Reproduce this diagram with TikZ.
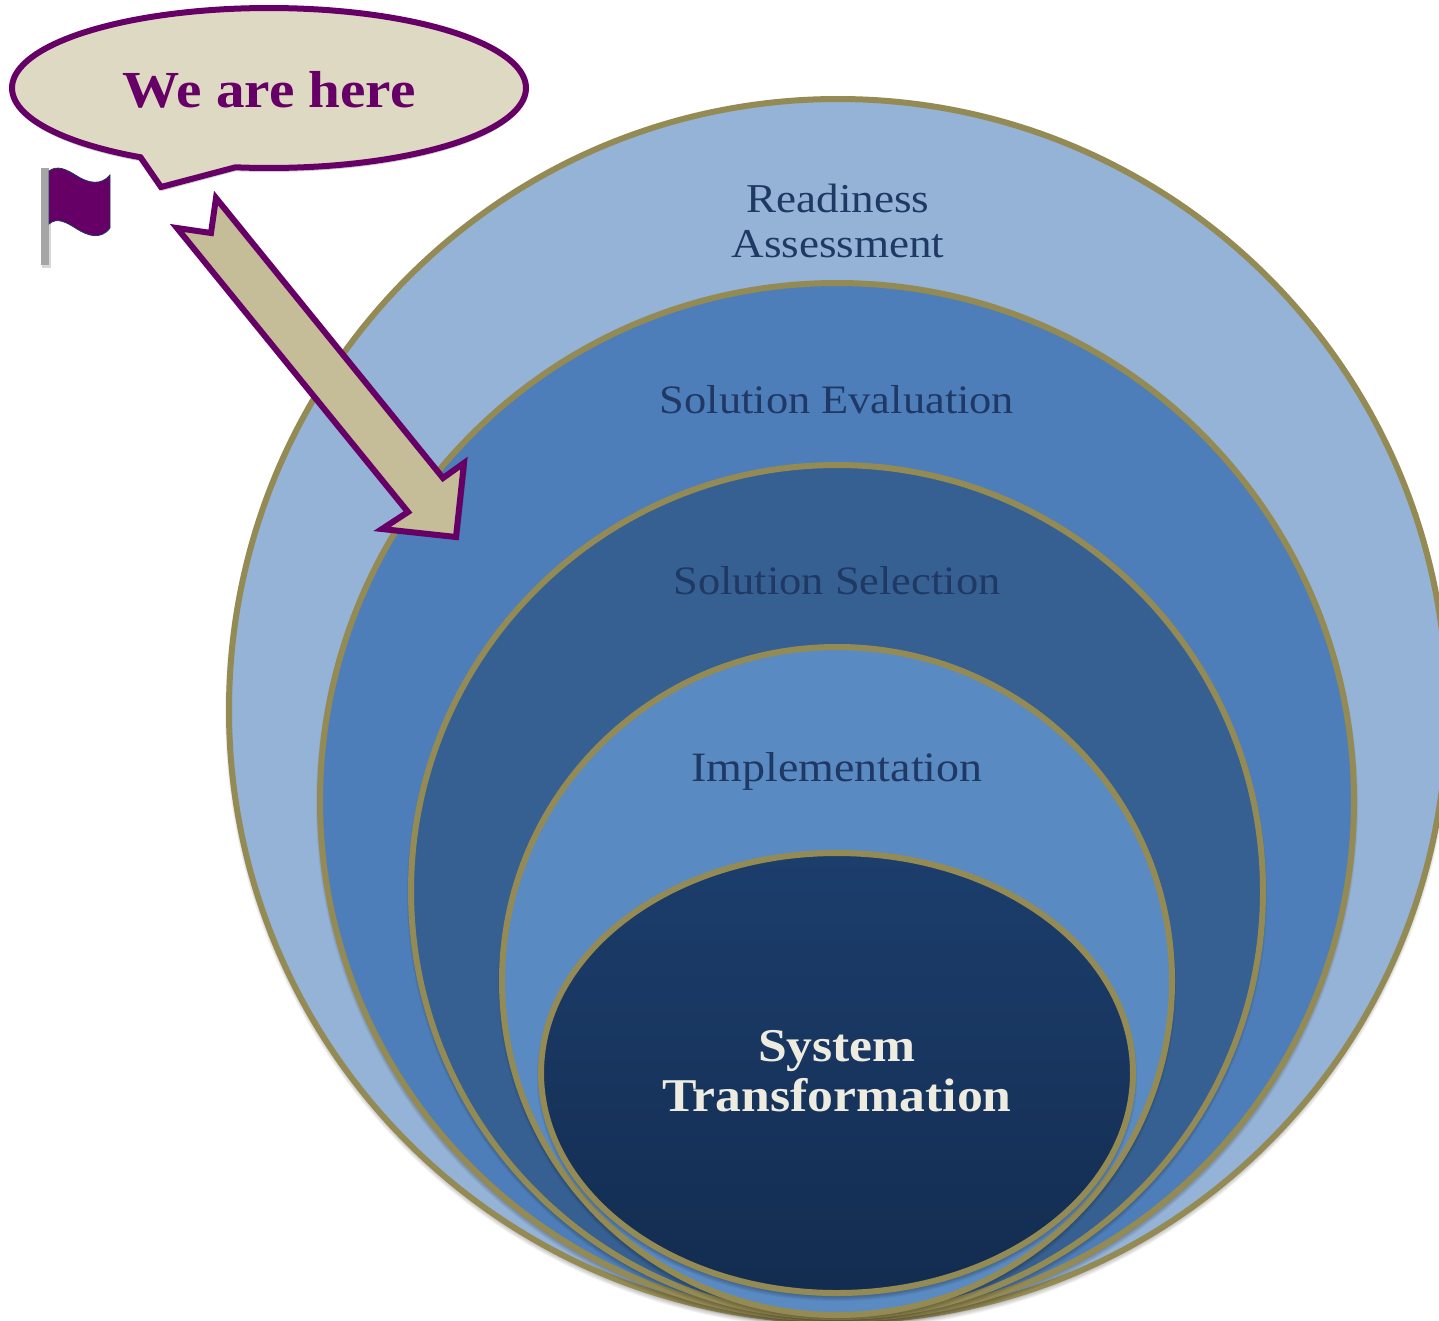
\documentclass[tikz,border=0pt]{standalone}
\usepackage{fontspec}
\setmainfont{Liberation Serif}[FakeStretch=1.1]
\definecolor{rim}{HTML}{948A54}
\definecolor{plum}{HTML}{660066}
\definecolor{labelblue}{HTML}{1F3864}
\definecolor{ringA}{HTML}{95B3D7}
\definecolor{ringB}{HTML}{4D7EB9}
\definecolor{ringC}{HTML}{366092}
\definecolor{ringD}{HTML}{5A8AC2}
\definecolor{coreTop}{HTML}{1C3E6C}
\definecolor{coreBot}{HTML}{132C50}
\definecolor{bubbleFill}{HTML}{DDD9C3}
\definecolor{arrowFill}{HTML}{C4BD97}
\definecolor{cream}{HTML}{EEECE1}
\tikzset{
  x=1pt,y=-1pt,
  ringshape/.style={ellipse,draw=rim,line width=6pt,inner sep=0pt,outer sep=0pt},
  softshadow/.style={ellipse,fill=black,fill opacity=.05,draw=none,inner sep=0pt,outer sep=0pt},
  ringlabel/.style={text=labelblue,font=\fontsize{41}{45}\selectfont,align=center,inner sep=0pt},
  plumline/.style={draw=plum,line width=6pt,line join=miter,miter limit=10},
}
\usetikzlibrary{shapes.geometric}
\newcommand{\softring}[6]{% name,cx,cy,w,h,fill
  \foreach \g in {0,2,4,6,8}{
    \node[softshadow,minimum width=#4pt+\g pt,minimum height=#5pt+\g pt] at (#2,#3+4) {};
  }
  \node[ringshape,fill=#6,minimum width=#4pt,minimum height=#5pt] (#1) at (#2,#3) {};
}
\begin{document}
\begin{tikzpicture}
\useasboundingbox (0,0) rectangle (1439,1320);
% rings
\softring{ringa}{838}{710}{1218}{1222}{ringA}
\softring{ringb}{837}{801}{1034}{1036}{ringB}
\softring{ringc}{837}{891}{852}{852}{ringC}
\softring{ringd}{837}{981}{670}{668}{ringD}
\foreach \g in {0,2,4,6,8}{
  \node[softshadow,minimum width=592pt+\g pt,minimum height=440pt+\g pt] at (837,1077) {};
}
\node[ringshape,top color=coreTop,bottom color=coreBot,minimum width=592pt,minimum height=440pt] (core) at (837,1073) {};
% labels
\node[ringlabel] (l1) at (838,221) {Readiness\\Assessment};
\node[ringlabel,font=\fontsize{40.4}{45}\selectfont] (l2) at (837,400) {Solution Evaluation};
\node[ringlabel,font=\fontsize{40.4}{45}\selectfont] (l3) at (837,581) {Solution Selection};
\node[ringlabel,font=\fontsize{41.8}{45}\selectfont] (l4) at (837,771) {Implementation};
\node[text=cream,font=\fontsize{47}{50}\selectfont\bfseries,align=center,inner sep=0pt] (l5) at (837,1071) {System\\Transformation};
% arrow
\path[fill=black,fill opacity=.2] (180,231) -- (214,236) -- (219,201) -- (446,482) -- (467,467) -- (459,540) -- (385,532) -- (411,516) -- cycle;
\path[plumline,fill=arrowFill] (177,228) -- (211,233) -- (216,198) -- (443,478) -- (464,463) -- (456,537) -- (382,529) -- (408,512) -- cycle;
% speech bubble
\path[fill=black,fill opacity=.18]
  plot[domain=120:457.5,samples=160] ({269+257*cos(\x)},{92+80*sin(\x)}) -- (162,191) -- cycle;
\path[plumline,fill=bubbleFill]
  plot[domain=120:457.5,samples=160] ({269+257*cos(\x)},{88+80*sin(\x)}) -- (161,187) -- cycle;
\node[text=plum,font=\fontsize{52}{54}\selectfont\bfseries,inner sep=0pt] (bubbletext) at (269,90) {We are here};
% flag
\fill[black!30,opacity=.5] (42,170) rectangle (51,268);
\fill[black!35] (41,168) rectangle (49,265);
\path[fill=plum,draw=labelblue,line width=.8pt]
  (49,171) .. controls (57,165) and (66,169) .. (77,176)
  .. controls (88,183) and (101,186) .. (110,175)
  -- (110,228)
  .. controls (101,240) and (88,236) .. (77,229)
  .. controls (66,222) and (57,217) .. (49,224) -- cycle;
\end{tikzpicture}
\end{document}
